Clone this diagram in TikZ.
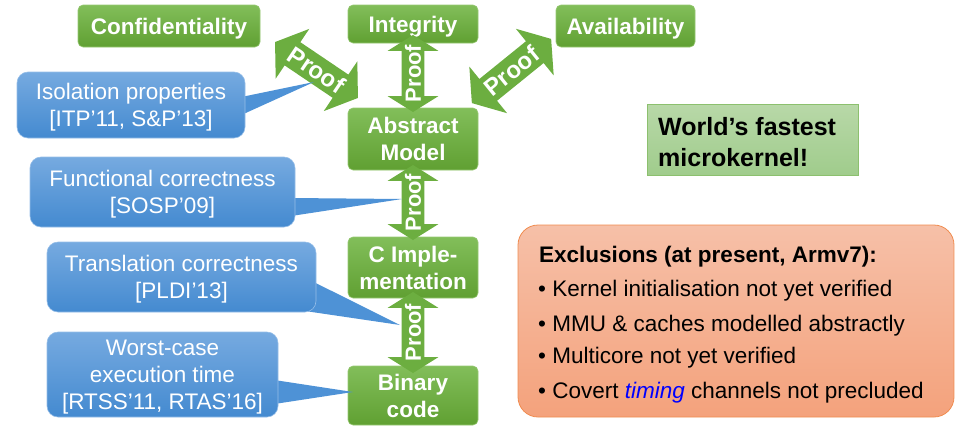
\documentclass[tikz,border=0pt]{standalone}
\usepackage{fontspec}
\setmainfont{Liberation Sans}
\usetikzlibrary{shapes.arrows,calc}
\definecolor{gtop}{RGB}{130,190,90}
\definecolor{gbot}{RGB}{96,160,50}
\definecolor{gedge}{RGB}{150,200,115}
\definecolor{arrowg}{RGB}{108,174,64}
\definecolor{btop}{RGB}{118,170,224}
\definecolor{bbot}{RGB}{68,138,208}
\definecolor{bedge}{RGB}{150,190,232}
\definecolor{bptr}{RGB}{78,146,214}
\definecolor{wtop}{RGB}{184,216,168}
\definecolor{wbot}{RGB}{160,204,140}
\definecolor{wedge}{RGB}{140,192,110}
\definecolor{otop}{RGB}{246,192,168}
\definecolor{obot}{RGB}{244,162,124}
\definecolor{oedge}{RGB}{240,140,80}
\definecolor{timingblue}{RGB}{0,0,255}
\newcommand\bigfnt{\fontsize{22.5}{27}\selectfont}
\newcommand\zw[1]{\makebox[0pt][c]{#1}}
\pgfdeclarelayer{ptr}
\pgfdeclarelayer{front}
\pgfsetlayers{main,ptr,front}
\begin{document}
\begin{tikzpicture}[x=1pt,y=-1pt,
  gbox/.style={rounded corners=5pt, top color=gtop, bottom color=gbot, draw=gedge, line width=0.6pt,
    text=white, font=\bigfnt\bfseries, align=center, inner sep=0pt, text depth=0pt},
  bbox/.style={rounded corners=11pt, top color=btop, bottom color=bbot, draw=bedge, line width=0.6pt,
    text=white, font=\bigfnt, align=center, inner sep=0pt, text depth=0pt},
  proofv/.style={double arrow, fill=arrowg, text=white, font=\fontsize{22}{26}\selectfont\bfseries,
    inner xsep=0pt, inner ysep=3pt, double arrow head extend=14pt, double arrow tip angle=116,
    minimum height=#1, rotate=90},
  proofd/.style={double arrow, fill=arrowg, text=white, font=\fontsize{24}{28}\selectfont\bfseries,
    inner xsep=0pt, inner ysep=5pt, double arrow head extend=16pt, double arrow tip angle=110,
    minimum height=#1},
  linetext/.style={anchor=base west, inner sep=0pt, font=\bigfnt, text=black}
]
\useasboundingbox (0,0) rectangle (955,426);

% green boxes
\node[gbox, minimum width=182pt, minimum height=42pt] (conf) at (169,26) {Confidentiality};
\node[gbox, minimum width=130pt, minimum height=38pt] (integ) at (413,24) {Integrity};
\node[gbox, minimum width=139pt, minimum height=42pt] (avail) at (625.5,26) {Availability};
\node[gbox, minimum width=130pt, minimum height=62pt] (abs) at (413,139) {Abstract\\Model};
\node[gbox, minimum width=130pt, minimum height=61pt] (cimpl) at (413,267.5) {C Imple-\\mentation};
\node[gbox, minimum width=130pt, minimum height=59pt] (bin) at (413,395.5) {Binary\\code};

% proof arrows
\node[proofv=77pt] (p1) at (413,73.5) {\zw{Proof}};
\node[proofv=75pt] (p2) at (413,202.5) {\zw{Proof}};
\node[proofv=81pt] (p3) at (413,332.5) {\zw{Proof}};
\node[proofd=100pt, rotate=-34] (pl) at (316.5,70) {\zw{Proof}};
\node[proofd=102pt, rotate=39] (pr) at (511.5,71) {\zw{Proof}};

% callout tips
\coordinate (isotip) at (314,82);
\coordinate (functip) at (402,199);
\coordinate (transtip) at (400,325);
\coordinate (wcettip) at (353,392);

% blue callouts
\begin{pgfonlayer}{front}
\node[bbox, minimum width=228pt, minimum height=66pt] (iso) at (131,105) {Isolation properties\\{}[ITP’11, S\&P’13]};
\node[bbox, minimum width=265pt, minimum height=70pt] (func) at (162.5,192) {Functional correctness\\{}[SOSP’09]};
\node[bbox, minimum width=269pt, minimum height=70pt] (trans) at (181.5,277) {Translation correctness\\{}[PLDI’13]};
\node[bbox, minimum width=231pt, minimum height=85pt] (wcet) at (162.5,374.5) {Worst-case\\execution time\\{}[RTSS’11, RTAS’16]};
\end{pgfonlayer}

\begin{pgfonlayer}{ptr}
\fill[bptr] ($(iso.east)+(-4,-8)$) -- (isotip) -- ($(iso.east)+(-4,10)$) -- cycle;
\fill[bptr] ($(func.east)+(-4,6)$) -- (functip) -- ($(func.east)+(-4,24)$) -- cycle;
\fill[bptr] ($(trans.south east)+(-2,-30)$) -- (transtip) -- ($(trans.south east)+(-16,-2)$) -- cycle;
\fill[bptr] ($(wcet.east)+(-4,5.5)$) -- (wcettip) -- ($(wcet.east)+(-4,29.5)$) -- cycle;
\end{pgfonlayer}

% world's fastest
\node[top color=wtop, bottom color=wbot, draw=wedge, line width=0.8pt, minimum width=211pt, minimum height=71pt] (world) at (752.5,139.5) {};
\node[anchor=west, inner sep=0pt, align=left, text depth=0pt, font=\fontsize{25}{31}\selectfont\bfseries] (worldtxt) at (658,142)
  {World’s fastest\\microkernel!};

% exclusions
\node[rounded corners=20pt, top color=otop, bottom color=obot, draw=oedge, line width=0.8pt,
  minimum width=436pt, minimum height=192pt] (excl) at (736,321) {};
\node[linetext, font=\bigfnt\bfseries] (ex0) at (539,262) {Exclusions (at present, Armv7):};
\node[linetext] (ex1) at (538,296) {• Kernel initialisation not yet verified};
\node[linetext] (ex2) at (538,331) {• MMU \& caches modelled abstractly};
\node[linetext] (ex3) at (538,363) {• Multicore not yet verified};
\node[linetext] (ex4) at (538,398) {• Covert \textcolor{timingblue}{\itshape timing} channels not precluded};
\end{tikzpicture}
\end{document}
